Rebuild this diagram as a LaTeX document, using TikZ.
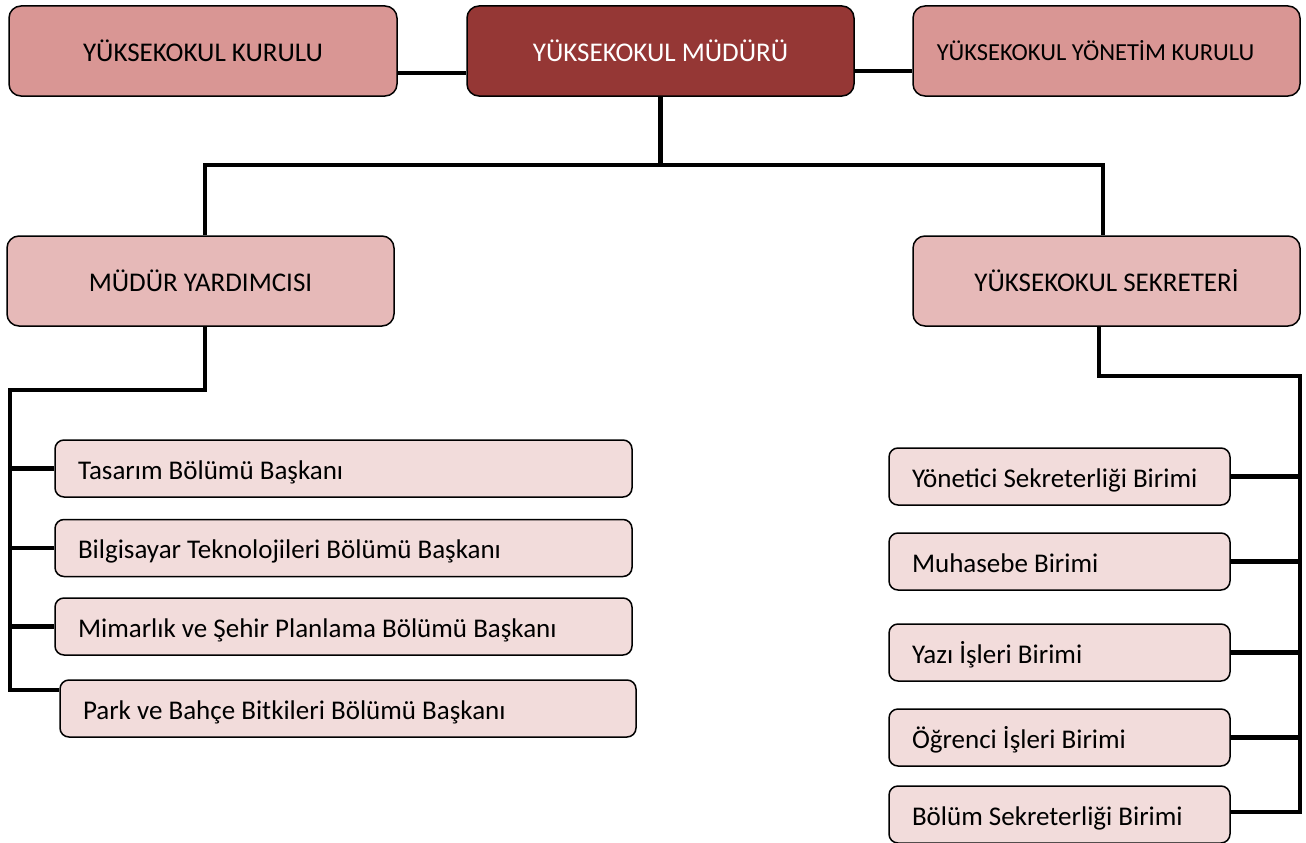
\documentclass[tikz,border=0pt]{standalone}
\usepackage{fontspec}
\setmainfont{Carlito}
\definecolor{cside}{HTML}{D99694}
\definecolor{chead}{HTML}{953735}
\definecolor{cmid}{HTML}{E6B9B8}
\definecolor{clow}{HTML}{F2DCDB}
\begin{document}
\begin{tikzpicture}[x=1pt,y=-1pt,
  box/.style={draw=black, line width=1.5pt, rounded corners=12pt, inner sep=0pt},
  bigbox/.style={box, minimum width=388pt, minimum height=90pt, font=\fontsize{27}{32}\selectfont},
  lowbox/.style={box, rounded corners=9pt, minimum height=57pt, inner xsep=23pt, align=flush left,
    text height=23pt, text depth=2pt, font=\fontsize{27}{32}\selectfont},
  conn/.style={line width=4.5pt, line join=miter}]
\useasboundingbox (0,0) rectangle (1306,843);

\node[bigbox, fill=cside] (kurul) at (203,51) {YÜKSEKOKUL KURULU};
\node[bigbox, fill=chead, text=white, minimum width=387pt] (mudur) at (660.5,51) {YÜKSEKOKUL MÜDÜRÜ};
\node[bigbox, fill=cside, minimum width=387pt, font=\fontsize{24.5}{29}\selectfont] (ykurul) at (1106.5,51) {\hspace*{-22pt}YÜKSEKOKUL YÖNETİM KURULU};
\node[bigbox, fill=cmid, minimum width=387pt] (myard) at (200.5,281) {MÜDÜR YARDIMCISI};
\node[bigbox, fill=cmid, minimum width=387pt] (sekr) at (1106.5,281) {YÜKSEKOKUL SEKRETERİ};

\node[lowbox, fill=clow, text width=531pt] (tas) at (343.5,468.5) {Tasarım Bölümü Başkanı};
\node[lowbox, fill=clow, text width=531pt] (bil) at (343.5,548) {Bilgisayar Teknolojileri Bölümü Başkanı};
\node[lowbox, fill=clow, text width=531pt] (mim) at (343.5,626.5) {Mimarlık ve Şehir Planlama Bölümü Başkanı};
\node[lowbox, fill=clow, text width=530pt] (park) at (348,708.5) {Park ve Bahçe Bitkileri Bölümü Başkanı};

\node[lowbox, fill=clow, text width=295pt] (yon) at (1059.5,476.5) {Yönetici Sekreterliği Birimi};
\node[lowbox, fill=clow, text width=295pt] (muh) at (1059.5,561.5) {Muhasebe Birimi};
\node[lowbox, fill=clow, text width=295pt] (yazi) at (1059.5,652.5) {Yazı İşleri Birimi};
\node[lowbox, fill=clow, text width=295pt] (ogr) at (1059.5,737.5) {Öğrenci İşleri Birimi};
\node[lowbox, fill=clow, text width=295pt] (bol) at (1059.5,814.5) {Bölüm Sekreterliği Birimi};

\coordinate (hl) at (0,73);
\coordinate (hr) at (0,71);
\coordinate (jt) at (660.5,165);
\coordinate (lbus) at (10,390);
\coordinate (lbot) at (10,690);
\coordinate (rbus) at (1300,376);
\coordinate (rbot) at (1300,812);

\draw[conn] (kurul.east |- hl) -- (mudur.west |- hl);
\draw[conn] (mudur.east |- hr) -- (ykurul.west |- hr);
\draw[conn] (mudur.south) -- (jt);
\draw[conn] ([xshift=4.5pt]myard.north) |- (jt) -| ([xshift=-3.5pt]sekr.north);

\draw[conn] ([xshift=4.5pt]myard.south) |- (lbus) -- (lbot) -- (lbot -| park.west);
\draw[conn] (lbus |- tas.west) -- (tas.west);
\draw[conn] (lbus |- bil.west) -- (bil.west);
\draw[conn] (lbus |- mim.west) -- (mim.west);

\draw[conn] ([xshift=-7.5pt]sekr.south) |- (rbus) -- (rbot) -- (rbot -| bol.east);
\draw[conn] (rbus |- yon.east) -- (yon.east);
\draw[conn] (rbus |- muh.east) -- (muh.east);
\draw[conn] (rbus |- yazi.east) -- (yazi.east);
\draw[conn] (rbus |- ogr.east) -- (ogr.east);
\end{tikzpicture}
\end{document}
